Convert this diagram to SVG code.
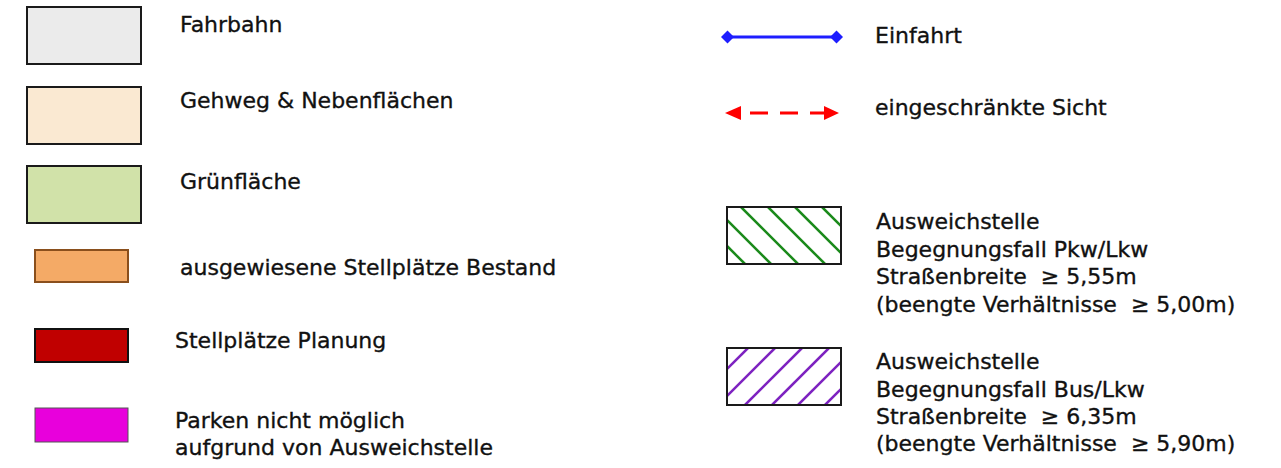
<svg xmlns="http://www.w3.org/2000/svg" width="1281" height="468" viewBox="0 0 1281 468">
<style>
text{font-family:"DejaVu Sans","Liberation Sans",sans-serif;font-size:22px;fill:#111;stroke:#111;stroke-width:0.35}
.box{stroke:#1a1a1a;stroke-width:2}
.hg{stroke:#1a8a1a;stroke-width:2.5}
.hp{stroke:#7d22c0;stroke-width:2.5}
</style>
<defs>
<clipPath id="cg"><rect x="727" y="207" width="114" height="57"/></clipPath>
<clipPath id="cp"><rect x="727" y="348" width="114" height="57"/></clipPath>
</defs>
<rect width="1281" height="468" fill="#fff"/>
<g id="fahrbahn">
<rect class="box" x="27" y="7" width="114" height="57" fill="#ebebeb"/>
<text x="180" y="32">Fahrbahn</text>
</g>
<g id="gehweg">
<rect class="box" x="27" y="87" width="114" height="57" fill="#fae9d2"/>
<text x="180" y="108">Gehweg &amp; Nebenflächen</text>
</g>
<g id="gruen">
<rect class="box" x="27" y="166" width="114" height="57" fill="#d1e2a9"/>
<text x="180" y="189">Grünfläche</text>
</g>
<g id="bestand">
<rect x="35" y="250" width="93" height="32" fill="#f4aa66" stroke="#8a4f1c" stroke-width="2"/>
<text x="180" y="275">ausgewiesene Stellplätze Bestand</text>
</g>
<g id="planung">
<rect x="35" y="329" width="93" height="33" fill="#c00000" stroke="#111" stroke-width="2"/>
<text x="175" y="348">Stellplätze Planung</text>
</g>
<g id="parken">
<rect x="35" y="408" width="93" height="34" fill="#e800dc" stroke="#555" stroke-width="1"/>
<text x="175" y="428">Parken nicht möglich</text>
<text x="175" y="455">aufgrund von Ausweichstelle</text>
</g>
<g id="einfahrt">
<line x1="727" y1="37" x2="837" y2="37" stroke="#1e1eff" stroke-width="3"/>
<polygon points="721,37 727.5,30.5 734,37 727.5,43.5" fill="#1e1eff"/>
<polygon points="830,37 836.5,30.5 843,37 836.5,43.5" fill="#1e1eff"/>
<text x="875" y="43">Einfahrt</text>
</g>
<g id="sicht">
<line x1="750" y1="113" x2="828" y2="113" stroke="#ff0000" stroke-width="3" stroke-dasharray="18 12"/>
<polygon points="725,113 741,106 741,120" fill="#ff0000"/>
<polygon points="839,113 824,106 824,120" fill="#ff0000"/>
<text x="875" y="115">eingeschränkte Sicht</text>
</g>
<g id="ausweich-pkw">
<rect x="727" y="207" width="114" height="57" fill="#fff"/>
<g clip-path="url(#cg)">
<line class="hg" x1="727" y1="246" x2="745" y2="264"/>
<line class="hg" x1="714" y1="207" x2="771" y2="264"/>
<line class="hg" x1="741" y1="207" x2="798" y2="264"/>
<line class="hg" x1="768" y1="207" x2="825" y2="264"/>
<line class="hg" x1="795" y1="207" x2="852" y2="264"/>
<line class="hg" x1="822" y1="207" x2="879" y2="264"/>
</g>
<rect class="box" x="727" y="207" width="114" height="57" fill="none"/>
<text x="876" y="229">Ausweichstelle</text>
<text x="876" y="257">Begegnungsfall Pkw/Lkw</text>
<text x="876" y="284" xml:space="preserve">Straßenbreite  ≥ 5,55m</text>
<text x="876" y="312" xml:space="preserve">(beengte Verhältnisse  ≥ 5,00m)</text>
</g>
<g id="ausweich-bus">
<rect x="727" y="348" width="114" height="57" fill="#fff"/>
<g clip-path="url(#cp)">
<line class="hp" x1="691" y1="405" x2="748" y2="348"/>
<line class="hp" x1="718" y1="405" x2="775" y2="348"/>
<line class="hp" x1="745" y1="405" x2="802" y2="348"/>
<line class="hp" x1="772" y1="405" x2="829" y2="348"/>
<line class="hp" x1="798" y1="405" x2="855" y2="348"/>
<line class="hp" x1="825" y1="405" x2="882" y2="348"/>
</g>
<rect class="box" x="727" y="348" width="114" height="57" fill="none"/>
<text x="876" y="369">Ausweichstelle</text>
<text x="876" y="397">Begegnungsfall Bus/Lkw</text>
<text x="876" y="424" xml:space="preserve">Straßenbreite  ≥ 6,35m</text>
<text x="876" y="451" xml:space="preserve">(beengte Verhältnisse  ≥ 5,90m)</text>
</g>
</svg>
